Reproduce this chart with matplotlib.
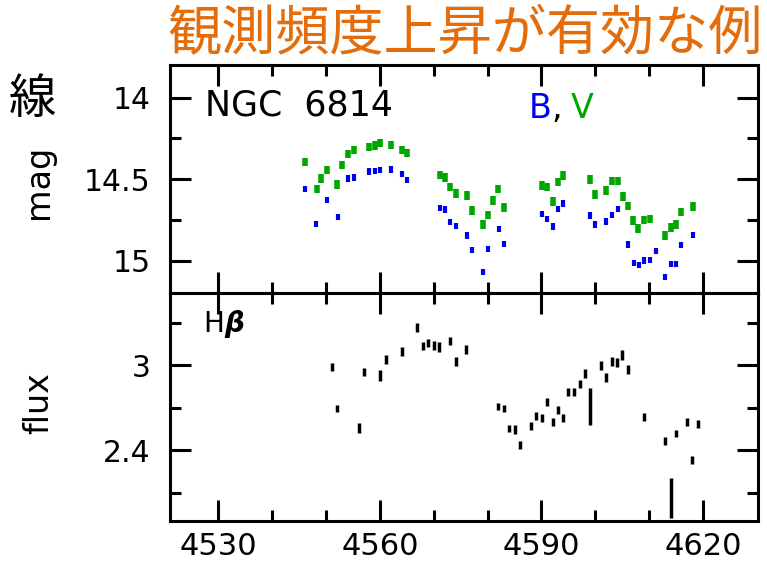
import matplotlib.pyplot as plt
import numpy as np

# V band (green)
v_x = np.array([4546.1, 4548.3, 4549.1, 4550.1, 4552.1, 4553.0, 4554.1, 4555.2, 4558.0, 4559.1,
                4560.0, 4562.1, 4564.1, 4565.1, 4571.1, 4572.1, 4573.0, 4574.1, 4576.2, 4577.1,
                4579.1, 4580.0, 4581.0, 4582.0, 4583.1, 4590.1, 4591.1, 4592.1, 4593.1, 4594.0,
                4599.0, 4600.0, 4602.0, 4603.1, 4604.2, 4605.2, 4606.0, 4607.0, 4608.0, 4609.0,
                4610.1, 4613.0, 4614.1, 4615.0, 4616.0, 4618.1])
v_mag = np.array([14.395, 14.558, 14.495, 14.444, 14.532, 14.411, 14.346, 14.321, 14.300, 14.293,
                  14.280, 14.289, 14.321, 14.337, 14.473, 14.489, 14.548, 14.587, 14.599, 14.691,
                  14.777, 14.718, 14.630, 14.558, 14.673, 14.538, 14.548, 14.636, 14.518, 14.477,
                  14.501, 14.593, 14.569, 14.513, 14.513, 14.606, 14.665, 14.753, 14.802, 14.747,
                  14.741, 14.845, 14.796, 14.777, 14.702, 14.667])

# B band (blue)
b_x = np.array([4546.1, 4548.2, 4550.2, 4552.2, 4554.1, 4555.1, 4558.0, 4559.1, 4560.1, 4562.1,
                4564.1, 4565.1, 4571.1, 4572.1, 4573.1, 4574.1, 4576.2, 4577.1, 4579.1, 4580.0,
                4582.1, 4583.1, 4590.1, 4591.1, 4592.1, 4593.1, 4594.0, 4599.0, 4600.0, 4602.0,
                4603.1, 4604.2, 4606.0, 4607.1, 4608.1, 4609.1, 4610.1, 4611.2, 4613.0, 4614.1,
                4615.0, 4616.0, 4618.1])
b_mag = np.array([14.558, 14.773, 14.628, 14.732, 14.495, 14.489, 14.452, 14.450, 14.442, 14.440,
                  14.469, 14.505, 14.675, 14.685, 14.763, 14.785, 14.845, 14.931, 15.066, 14.925,
                  14.804, 14.898, 14.712, 14.741, 14.790, 14.683, 14.648, 14.722, 14.777, 14.759,
                  14.720, 14.683, 14.900, 15.012, 15.027, 14.998, 14.994, 14.941, 15.100, 15.017,
                  15.019, 14.902, 14.840])

# H beta flux
h_x = np.array([4551.0, 4552.0, 4556.1, 4557.0, 4560.0, 4561.1, 4564.1, 4566.9, 4568.0, 4569.0,
                4570.0, 4571.0, 4573.0, 4574.1, 4576.0, 4582.0, 4583.0, 4584.0, 4585.1, 4586.0,
                4588.0, 4589.0, 4590.1, 4591.0, 4592.1, 4593.1, 4594.0, 4595.0, 4596.0, 4597.1,
                4598.0, 4599.0, 4601.0, 4602.0, 4603.1, 4604.0, 4605.0, 4606.1, 4609.0, 4613.0,
                4614.1, 4615.0, 4617.0, 4618.0, 4619.1])
h_flux = np.array([2.988, 2.693, 2.559, 2.953, 2.925, 3.040, 3.096, 3.265, 3.136, 3.157,
                   3.139, 3.127, 3.171, 3.028, 3.108, 2.709, 2.693, 2.552, 2.548, 2.435,
                   2.571, 2.643, 2.625, 2.742, 2.599, 2.684, 2.625, 2.812, 2.812, 2.866,
                   2.939, 2.709, 2.998, 2.911, 3.026, 3.016, 3.072, 2.970, 2.636, 2.466,
                   2.063, 2.517, 2.597, 2.330, 2.585])
h_err = np.array([0.029, 0.027, 0.035, 0.029, 0.039, 0.032, 0.033, 0.035, 0.029, 0.027,
                  0.032, 0.033, 0.029, 0.032, 0.033, 0.026, 0.027, 0.027, 0.032, 0.027,
                  0.027, 0.029, 0.029, 0.029, 0.027, 0.028, 0.029, 0.028, 0.028, 0.029,
                  0.032, 0.131, 0.032, 0.032, 0.033, 0.032, 0.033, 0.032, 0.028, 0.027,
                  0.141, 0.027, 0.029, 0.026, 0.029])

V_ERR = 0.025
B_ERR = 0.019

green = '#00A600'
blue = '#0000F0'

plt.rcParams['font.family'] = ['DejaVu Sans']

fig = plt.figure(figsize=(7.67, 5.66), dpi=100)
ax1 = fig.add_axes([0.2216, 0.4823, 0.7666, 0.4028])
ax2 = fig.add_axes([0.2216, 0.0795, 0.7666, 0.4028], sharex=ax1)

ax1.errorbar(v_x, v_mag, yerr=V_ERR, fmt='none', ecolor=green, elinewidth=4, capsize=0)
ax1.errorbar(b_x, b_mag, yerr=B_ERR, fmt='none', ecolor=blue, elinewidth=3, capsize=0)
ax2.errorbar(h_x, h_flux, yerr=h_err, fmt='none', ecolor='k', elinewidth=2.5, capsize=0)

ax1.set_xlim(4521, 4630.2)
ax1.set_ylim(15.197, 13.80)
ax2.set_ylim(1.9, 3.508)

ax1.set_yticks([14, 14.5, 15])
ax1.set_yticklabels(['14', '14.5', '15'])
ax1.set_yticks([14.25, 14.75], minor=True)
ax2.set_yticks([2.4, 3])
ax2.set_yticklabels(['2.4', '3'])
ax2.set_yticks([2.1, 2.7, 3.3], minor=True)
ax2.set_xticks([4530, 4560, 4590, 4620])
ax2.set_xticks([4540, 4550, 4570, 4580, 4600, 4610], minor=True)

for ax in (ax1, ax2):
    for s in ax.spines.values():
        s.set_linewidth(2.2)
    ax.tick_params(which='both', direction='in', top=True, right=True, width=2.2)
    ax.tick_params(which='major', length=15)
    ax.tick_params(which='minor', length=8)
    ax.tick_params(axis='y', labelsize=21.5, pad=14)
    ax.tick_params(axis='x', labelsize=22, pad=8)
ax1.tick_params(axis='x', labelbottom=False)

ax1.set_ylabel('mag', fontsize=24)
ax1.yaxis.set_label_coords(-0.195, 0.487)
ax2.set_ylabel('flux', fontsize=24)
ax2.yaxis.set_label_coords(-0.195, 0.518)

ax1.text(0.06, 0.78, 'NGC  6814', transform=ax1.transAxes, fontsize=25, va='baseline')
ax1.text(0.611, 0.768, 'B', transform=ax1.transAxes, fontsize=24, color=blue, va='baseline')
ax1.text(0.648, 0.768, ',', transform=ax1.transAxes, fontsize=24, color='k', va='baseline')
ax1.text(0.682, 0.768, 'V', transform=ax1.transAxes, fontsize=24, color=green, va='baseline')

ax2.text(0.056, 0.829, 'H', transform=ax2.transAxes, fontsize=20, va='baseline')
ax2.text(0.092, 0.829, 'β', transform=ax2.transAxes, fontsize=20, va='baseline',
         fontstyle='italic', fontweight='bold')

fig.text(0.606, 0.94, '観測頻度上昇が有効な例', ha='center', va='center', fontsize=39,
         color='#E46C0A', family=['Noto Sans CJK JP', 'DejaVu Sans'])
fig.text(0.042, 0.823, '線', ha='center', va='center', fontsize=34, color='k',
         family=['Noto Sans CJK JP', 'DejaVu Sans'])

fig.savefig('out.png', dpi=100)
